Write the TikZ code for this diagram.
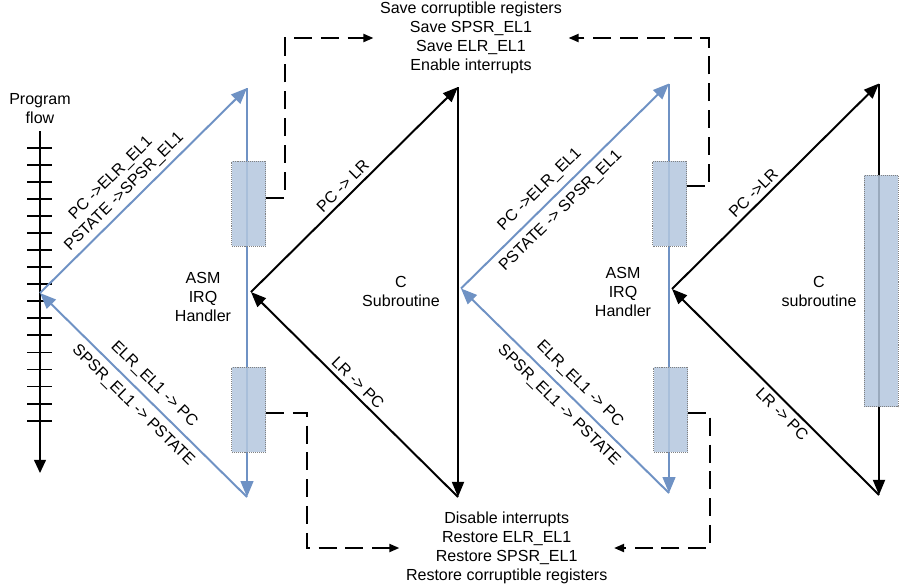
\documentclass[tikz,border=0pt]{standalone}
\usepackage{fontspec}
\setmainfont{Liberation Sans}
\usepackage{xcolor}
\usepackage{tikz}
\usetikzlibrary{arrows.meta}
\usetikzlibrary{calc}

\definecolor{flowblue}{RGB}{111,146,196}
\definecolor{regfill}{RGB}{180,199,222}

\begin{document}
\begin{tikzpicture}[x=0.025cm,y=-0.025cm,
    font=\fontsize{11.4}{13.5}\selectfont,
    bluearrow/.style={draw=flowblue,line width=1.4pt,-{Triangle[length=0.4cm,width=0.32cm]}},
    blackarrow/.style={draw=black,line width=1.4pt,-{Triangle[length=0.38cm,width=0.3cm]}},
    dashline/.style={line width=1.4pt,dash pattern=on 0.45cm off 0.22cm,-{Triangle[length=0.25cm,width=0.2cm]}},
    regbox/.style={draw=gray,densely dotted,fill=regfill,fill opacity=0.85,minimum width=0.85cm,minimum height=2.125cm,inner sep=0pt},
    slopetext/.style={sloped,align=center,inner sep=3pt}]
            \useasboundingbox (0,0) rectangle (911,587);

            %%% COORDINATES %%%
            \coordinate (ia) at (40,293);
            \coordinate (it) at (247,88);
            \coordinate (ib) at (247,497);
            \coordinate (ca) at (251,292);
            \coordinate (ct) at (458,87);
            \coordinate (cb) at (458,497);
            \coordinate (ja) at (461,288.5);
            \coordinate (jt) at (669,83.5);
            \coordinate (jb) at (669,493);
            \coordinate (da) at (672,289);
            \coordinate (dt) at (879,83.5);
            \coordinate (db) at (879,495);
            \coordinate (ftop) at (40,131);
            \coordinate (fend) at (40,473);

            %%% PROGRAM FLOW %%%
            \node[align=center] (flow) at (40,109) {Program\\flow};
            \draw[line width=1pt,-{Triangle[length=0.33cm,width=0.3cm]}] (ftop)--(fend);
            \foreach \i in {0,...,16}
                \draw[line width=1.3pt] (27,{147.7+17.06*\i})--(52,{147.7+17.06*\i});

            %%% TEXTS %%%
            \node[align=center] (asm1) at (203,297) {ASM\\IRQ\\Handler};
            \node[align=center] (csub1) at (401,291.5) {C\\Subroutine};
            \node[align=center] (asm2) at (623,291.5) {ASM\\IRQ\\Handler};
            \node[align=center] (csub2) at (819,291.5) {C\\subroutine};
            \node[align=center,inner sep=0.16cm] (save) at (471,38) {Save corruptible registers\\Save SPSR\_EL1\\Save ELR\_EL1\\Enable interrupts};
            \node[align=center,inner sep=0.16cm] (restore) at (506.7,548) {Disable interrupts\\Restore ELR\_EL1\\Restore SPSR\_EL1\\Restore corruptible registers};

            %%% TRIANGLES %%%
            \draw[bluearrow] (ia)--node[slopetext,above,pos=0.45]{PC ->ELR\_EL1\\PSTATE ->SPSR\_EL1}(it);
            \draw[bluearrow] (it)--(ib);
            \draw[bluearrow] (ib)--node[slopetext,pos=0.5]{ELR\_EL1 -> PC\\[7.8pt]SPSR\_EL1 -> PSTATE}(ia);
            \draw[blackarrow] (ca)--node[slopetext,above,pos=0.48]{PC -> LR}(ct);
            \draw[blackarrow] (ct)--(cb);
            \draw[blackarrow] (cb)--node[slopetext,above,pos=0.52]{LR -> PC}(ca);
            \draw[bluearrow] (ja)--node[slopetext,pos=0.43]{PC ->ELR\_EL1\\[7.8pt]PSTATE -> SPSR\_EL1}(jt);
            \draw[bluearrow] (jt)--(jb);
            \draw[bluearrow] (jb)--node[slopetext,pos=0.48]{ELR\_EL1 -> PC\\[7.8pt]SPSR\_EL1 -> PSTATE}(ja);
            \draw[blackarrow] (da)--node[slopetext,above,pos=0.43]{PC ->LR}(dt);
            \draw[blackarrow] (dt)--(db);
            \draw[blackarrow] (db)--node[slopetext,below,pos=0.43]{LR -> PC}(da);

            %%% REGISTER BOXES %%%
            \node[regbox] (hbox1) at (248.7,203.5) {};
            \node[regbox] (hbox2) at (248.7,409.5) {};
            \node[regbox] (hbox3) at (669.5,203.5) {};
            \node[regbox] (hbox4) at (670.7,409.5) {};
            \node[regbox,minimum height=5.775cm] (cbox) at (881,291) {};

            %%% DASHED LINKS %%%
            \draw[dashline] ($(hbox1.north east)!0.43!(hbox1.south east)$)--++(19,0)|-(save.west);
            \draw[dashline] ($(hbox2.north east)!0.54!(hbox2.south east)$)--++(41,0)|-(restore.west);
            \draw[dashline] ($(hbox3.north east)!0.3!(hbox3.south east)$)--++(22,0)|-(save.east);
            \draw[dashline] ($(hbox4.north east)!0.54!(hbox4.south east)$)--++(22,0)|-(restore.east);
        \end{tikzpicture}
\end{document}
